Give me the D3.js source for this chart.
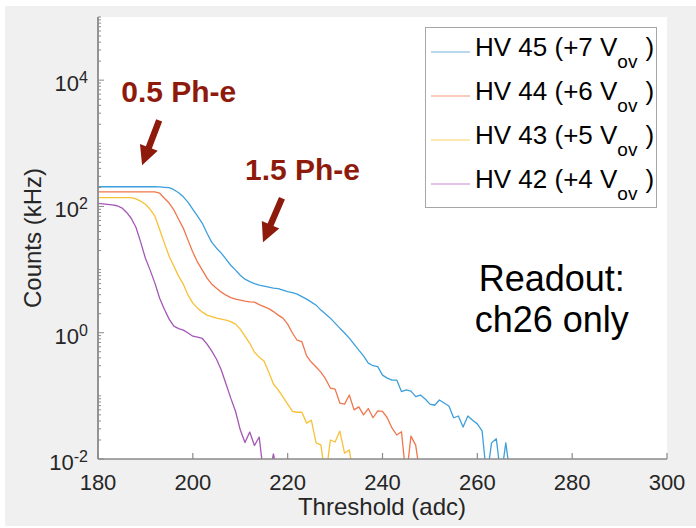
<!DOCTYPE html>
<html>
<head>
<meta charset="utf-8">
<script src="https://cdn.jsdelivr.net/npm/d3@7.9.0/dist/d3.min.js"></script>
<style>
  html, body { margin: 0; padding: 0; background: #fff; }
  svg { display: block; font-family: "Liberation Sans", Arial, Helvetica, sans-serif; }
</style>
</head>
<body>
<svg id="chart" width="696" height="528"></svg>
<script>
// counts (kHz) per threshold step of 1 adc, starting at 180
const startThreshold = 180;
const hv45 = [205, 205, 205, 205, 205, 205, 205, 205, 205, 205, 205, 205, 205, 204,
  201, 198, 184, 165, 142, 116, 90, 70, 54, 37.6, 27, 21.8, 18.2, 14.6, 11.7, 9.8,
  8.15, 7.04, 6.44, 5.98, 5.66, 5.46, 5.27, 5.08, 4.99, 4.72, 4.47, 4.31, 4.08, 3.72,
  3.40, 3.05, 2.73, 2.28, 1.97, 1.70, 1.42, 1.18, 0.99, 0.82, 0.66, 0.53, 0.43, 0.33,
  0.30, 0.29, 0.213, 0.191, 0.178, 0.178, 0.117, 0.124, 0.119, 0.097, 0.103, 0.089,
  0.074, 0.071, 0.086, 0.077, 0.069, 0.045, 0.048, 0.032, 0.048, 0.041, 0.036, 0.028,
  0.005, 0.018, 0.021, 0.005, 0.018, 0.005];
const hv44 = [170, 170, 170, 170, 170, 170, 170, 170, 170, 170, 170, 170, 170,
  162, 135, 113, 88, 62.7, 45, 29, 18.8, 13.1, 9.8, 7.3, 5.87, 5.08, 4.39, 3.93, 3.59,
  3.40, 3.28, 3.16, 3.08, 3.05, 2.79, 2.59, 2.41, 2.16, 1.90, 1.70, 1.37, 0.99, 0.76,
  0.72, 0.43, 0.34, 0.286, 0.238, 0.185, 0.133, 0.128, 0.077, 0.074, 0.103, 0.060,
  0.067, 0.050, 0.063, 0.045, 0.058, 0.057, 0.045, 0.031, 0.024, 0.027, 0.005, 0.023,
  0.0166, 0.005];
const hv43 = [138, 138, 138, 138, 138, 138, 138, 138,
  132, 121, 108, 90, 70, 43, 26.2, 16.3, 11.3, 7.87, 5.88, 3.93, 2.94, 2.45, 2.12, 1.90,
  1.80, 1.70, 1.64, 1.58, 1.50, 1.37, 1.14, 0.88, 0.68, 0.49, 0.41, 0.356, 0.238, 0.154,
  0.124, 0.096, 0.074, 0.057, 0.055, 0.055, 0.037, 0.041, 0.018, 0.0167, 0.005, 0.020,
  0.0186, 0.0277, 0.0124, 0.0139, 0.005];
const hv42 = [112, 110, 108, 106, 102.5, 95, 81, 65, 46.9, 27.2, 15.1, 9.8, 6.1, 3.52,
  2.36, 1.64, 1.27, 1.16, 1.10, 0.99, 0.88, 0.85, 0.81, 0.66, 0.51, 0.38, 0.256, 0.154,
  0.092, 0.057, 0.029, 0.0182, 0.0267, 0.0164, 0.0223, 0.005, 0.005, 0.012, 0.005];

const seriesNames = ['HV 45 (+7 V', 'HV 44 (+6 V', 'HV 43 (+5 V', 'HV 42 (+4 V'];
const seriesValues = [hv45, hv44, hv43, hv42];
const lineColors = ['#3d9fdc', '#f0764c', '#f7c136', '#a457b5'];
const legendColors = ['#a3cdea', '#f6baa5', '#fbe19a', '#d8b1df'];

const xTicks = [180, 200, 220, 240, 260, 280, 300];
const yTickExps = [-2, 0, 2, 4];

const svg = d3.select('#chart');

// figure background
svg.append('rect').attr('x', 5).attr('y', 6).attr('width', 691).attr('height', 520).attr('fill', '#f0f0f0');

const x = d3.scaleLinear().domain([180, 300]).range([98, 667]);
const y = d3.scaleLog().domain([1e-2, 1e5]).range([459, 17]);

svg.append('rect')
  .attr('x', x(180)).attr('y', y(1e5))
  .attr('width', x(300) - x(180)).attr('height', y(1e-2) - y(1e5))
  .attr('fill', '#fff');

svg.append('clipPath').attr('id', 'plotclip')
  .append('rect')
  .attr('x', x(180)).attr('y', y(1e5))
  .attr('width', x(300) - x(180)).attr('height', y(1e-2) - y(1e5));

// curves
const line = d3.line()
  .x((d, i) => x(startThreshold + i))
  .y(d => y(d));

const curves = svg.append('g').attr('clip-path', 'url(#plotclip)');
seriesValues.forEach((vals, idx) => {
  curves.append('path')
    .attr('d', line(vals))
    .attr('fill', 'none')
    .attr('stroke', lineColors[idx])
    .attr('stroke-width', 1.3)
    .attr('stroke-linejoin', 'round');
});

// axes
const axisColor = '#8a8a8a';
const textColor = '#262626';

const xAxis = svg.append('g');
xAxis.append('line')
  .attr('x1', x(180)).attr('x2', x(300))
  .attr('y1', y(1e-2)).attr('y2', y(1e-2))
  .attr('stroke', axisColor).attr('stroke-width', 1.5);
xTicks.forEach(t => {
  xAxis.append('line')
    .attr('x1', x(t)).attr('x2', x(t))
    .attr('y1', y(1e-2)).attr('y2', y(1e-2) - 6)
    .attr('stroke', axisColor).attr('stroke-width', 1.2);
  xAxis.append('text')
    .attr('x', x(t)).attr('y', 490)
    .attr('text-anchor', 'middle')
    .attr('font-size', 22)
    .attr('fill', textColor)
    .text(t);
});

const yAxis = svg.append('g');
yAxis.append('line')
  .attr('x1', x(180)).attr('x2', x(180))
  .attr('y1', y(1e-2)).attr('y2', y(1e5))
  .attr('stroke', axisColor).attr('stroke-width', 1.8);

// minor ticks for every decade
for (let e = -2; e < 5; e++) {
  for (let m = 1; m <= 9; m++) {
    const v = m * Math.pow(10, e);
    const major = m === 1 && yTickExps.includes(e);
    yAxis.append('line')
      .attr('x1', x(180)).attr('x2', x(180) + (major ? 6 : 3))
      .attr('y1', y(v)).attr('y2', y(v))
      .attr('stroke', axisColor).attr('stroke-width', 1);
  }
}
yAxis.append('line')
  .attr('x1', x(180)).attr('x2', x(180) + 3)
  .attr('y1', y(1e5)).attr('y2', y(1e5))
  .attr('stroke', axisColor).attr('stroke-width', 1);

yTickExps.forEach(e => {
  const ty = y(Math.pow(10, e));
  const label = yAxis.append('text')
    .attr('x', 88).attr('y', ty + 11)
    .attr('text-anchor', 'end')
    .attr('font-size', 22)
    .attr('fill', textColor);
  label.append('tspan').text('10');
  label.append('tspan').attr('font-size', 16).attr('dy', -8).text(e);
});

svg.append('text')
  .attr('transform', 'translate(41,238) rotate(-90)')
  .attr('text-anchor', 'middle')
  .attr('font-size', 24)
  .attr('fill', textColor)
  .text('Counts (kHz)');

svg.append('text')
  .attr('x', 382).attr('y', 515)
  .attr('text-anchor', 'middle')
  .attr('font-size', 24)
  .attr('fill', textColor)
  .text('Threshold (adc)');

// legend
const legend = svg.append('g');
legend.append('rect')
  .attr('x', 425.5).attr('y', 27.5)
  .attr('width', 231).attr('height', 180)
  .attr('fill', '#fff')
  .attr('stroke', '#a6a6a6').attr('stroke-width', 1);

seriesNames.forEach((name, idx) => {
  const base = 56 + idx * 44;
  legend.append('line')
    .attr('x1', 431).attr('x2', 470)
    .attr('y1', base - 4).attr('y2', base - 4)
    .attr('stroke', legendColors[idx]).attr('stroke-width', 1.5);
  const t = legend.append('text')
    .attr('x', 475).attr('y', base)
    .attr('font-size', 26)
    .attr('fill', '#000');
  t.append('tspan').text(name);
  t.append('tspan').attr('font-size', 19).attr('dy', 12).text('ov');
  t.append('tspan').attr('dy', -12).attr('dx', 8).text(')');
});

// annotations
const annoColor = '#8e1a0c';
const phLabels = [
  { text: '0.5 Ph-e', t: 184.9, v: 4460 },
  { text: '1.5 Ph-e', t: 211.0, v: 260 }
];
const arrows = [
  { t0: 192.9, v0: 2310, t1: 189.3, v1: 449 },
  { t0: 218.8, v0: 135, t1: 214.8, v1: 27.2 }
];

phLabels.forEach(d => {
  svg.append('text')
    .attr('x', x(d.t)).attr('y', y(d.v))
    .attr('font-size', 30)
    .attr('font-weight', 'bold')
    .attr('fill', annoColor)
    .text(d.text);
});

arrows.forEach(a => {
  const x0 = x(a.t0), y0 = y(a.v0), x1 = x(a.t1), y1 = y(a.v1);
  const len = Math.hypot(x1 - x0, y1 - y0);
  const ux = (x1 - x0) / len, uy = (y1 - y0) / len;
  const px = -uy, py = ux;
  const headLen = 19, headW = 9.5, shaftW = 3.2;
  const bx = x1 - ux * headLen, by = y1 - uy * headLen;
  const pts = [
    [x0 + px * shaftW, y0 + py * shaftW],
    [bx + px * shaftW, by + py * shaftW],
    [bx + px * headW, by + py * headW],
    [x1, y1],
    [bx - px * headW, by - py * headW],
    [bx - px * shaftW, by - py * shaftW],
    [x0 - px * shaftW, y0 - py * shaftW]
  ];
  svg.append('path')
    .attr('d', 'M' + pts.map(p => p.join(',')).join('L') + 'Z')
    .attr('fill', annoColor);
});

const readout = svg.append('text')
  .attr('text-anchor', 'middle')
  .attr('font-size', 36)
  .attr('fill', '#000');
readout.append('tspan').attr('x', x(275.7)).attr('y', 291).text('Readout:');
readout.append('tspan').attr('x', x(275.7)).attr('y', 332).text('ch26 only');
</script>
</body>
</html>
